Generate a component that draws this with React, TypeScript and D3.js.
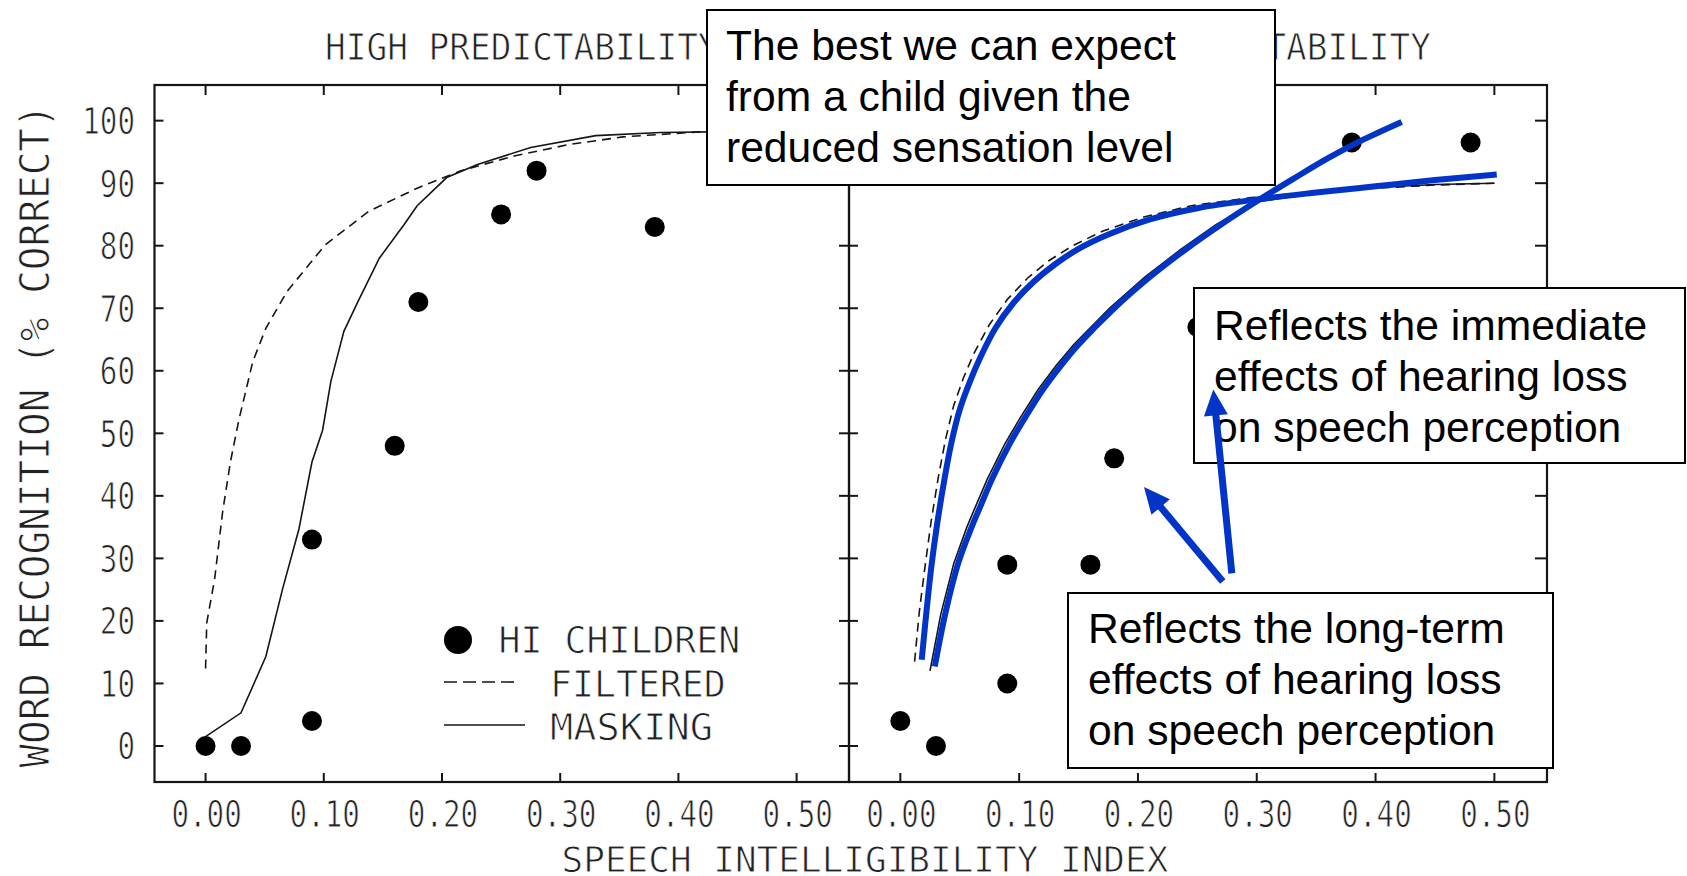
import React from 'react';
import * as d3 from 'd3';

const W = 1687, H = 876;

/* ── axes ── */
const xTicks = [0, 0.1, 0.2, 0.3, 0.4, 0.5];
const xTickLabels = ['0.00', '0.10', '0.20', '0.30', '0.40', '0.50'];
const yTicks = [0, 10, 20, 30, 40, 50, 60, 70, 80, 90, 100];

/* ── HIGH predictability (left panel) ── */
const highDotX = [0.0, 0.03, 0.09, 0.09, 0.16, 0.18, 0.25, 0.28, 0.38];
const highDotY = [0, 0, 4, 33, 48, 71, 85, 92, 83];
const highFilteredX = [0.0, 0.001, 0.0076, 0.0144, 0.021, 0.028, 0.04, 0.051, 0.069, 0.101, 0.138, 0.179, 0.216, 0.262, 0.308, 0.353, 0.417, 0.5];
const highFilteredY = [12.4, 19.7, 26.6, 37.4, 45.4, 52, 61.5, 66.8, 72.7, 80.1, 85.5, 89.2, 92, 94.4, 96.2, 97.4, 98.2, 98.5];
const highMaskingX = [0.0, 0.03, 0.051, 0.065, 0.079, 0.09, 0.099, 0.106, 0.117, 0.129, 0.147, 0.168, 0.179, 0.204, 0.23, 0.275, 0.33, 0.385, 0.5];
const highMaskingY = [1.5, 5.3, 14.3, 25, 34.7, 45.4, 50.5, 58.3, 66.3, 71.1, 78, 83.4, 86.4, 90.9, 93, 95.7, 97.6, 98.1, 98.4];

/* ── LOW predictability (right panel) ── */
const lowDotX = [0.0, 0.03, 0.09, 0.09, 0.16, 0.18, 0.25, 0.38, 0.48];
const lowDotY = [4, 0, 10, 29, 29, 46, 67, 96.5, 96.5];
const lowFilteredX = [0.012, 0.016, 0.021, 0.026, 0.032, 0.038, 0.045, 0.053, 0.062, 0.075, 0.09, 0.107, 0.125, 0.145, 0.17, 0.205, 0.245, 0.295, 0.35, 0.4, 0.45, 0.5];
const lowFilteredY = [13.5, 21.5, 29, 36, 43, 49, 54.5, 58.8, 62.8, 67.4, 71.4, 74.8, 77.6, 80, 82.3, 84.6, 86.4, 87.7, 88.6, 89.2, 89.7, 90];
const lowMaskingX = [0.025, 0.034, 0.045, 0.056, 0.064, 0.073, 0.088, 0.101, 0.116, 0.131, 0.146, 0.176, 0.206, 0.236, 0.266, 0.3, 0.35, 0.4, 0.45, 0.5];
const lowMaskingY = [12, 21, 29.2, 35, 38.6, 42.6, 48.3, 52.5, 57, 60.8, 64.2, 70, 75, 79.4, 83.4, 87, 88.4, 89.3, 89.8, 90];

/* ── hand-drawn blue curves (right panel) ── */
const immediateX = [0.018, 0.022, 0.026, 0.031, 0.037, 0.043, 0.05, 0.058, 0.067, 0.08, 0.095, 0.112, 0.13, 0.15, 0.175, 0.21, 0.25, 0.3, 0.35, 0.4, 0.45, 0.502];
const immediateY = [13.8, 21.5, 28.5, 35.5, 42.5, 48.5, 53.8, 58, 62, 66.8, 70.8, 74.2, 77, 79.5, 81.8, 84.2, 86, 87.4, 88.5, 89.5, 90.5, 91.4];
const longTermX = [0.029, 0.038, 0.049, 0.06, 0.068, 0.077, 0.092, 0.105, 0.12, 0.135, 0.15, 0.18, 0.21, 0.24, 0.27, 0.3, 0.33, 0.36, 0.39, 0.422];
const longTermY = [12.7, 21.3, 29.4, 35, 38.6, 42.6, 48.3, 52.5, 57, 60.8, 64.2, 70, 75, 79.4, 83.4, 87.1, 90.6, 94, 97, 99.8];

/* arrows in right-panel data units: [fromX, fromY, toX, toY] */
const arrows = [
  [0.279, 27.6, 0.2634, 57.0],
  [0.2714, 26.3, 0.2051, 41.4],
];

const callouts = [
  { x: 707, y: 10, w: 568, h: 175, tx: 726, base: 60, lines: ['The best we can expect', 'from a child given the', 'reduced sensation level'] },
  { x: 1194, y: 288, w: 491, h: 175, tx: 1214, base: 340, lines: ['Reflects the immediate', 'effects of hearing loss', 'on speech perception'] },
  { x: 1068, y: 593, w: 485, h: 175, tx: 1088, base: 643, lines: ['Reflects the long-term', 'effects of hearing loss', 'on speech perception'] },
];

const BLUE = '#0234c8';
const INK = '#151515';
const MONO = 'DejaVu Sans Mono, monospace';
const ARIAL = 'Liberation Sans, Arial, sans-serif';
const ADV = 0.602; // DejaVu Sans Mono advance per em

const top = 85, bottom = 782;
const y = d3.scaleLinear().domain([-5.76, 105.7]).range([bottom, top]);
const xL = d3.scaleLinear().domain([-0.0432, 0.5443]).range([154.5, 849]);
const xR = d3.scaleLinear().domain([-0.0432, 0.5443]).range([849, 1547]);

const zip = (xs, ys) => xs.map((v, i) => [v, ys[i]]);

/* thin, narrow plotter-style text: squeezed with textLength, white outline thins glyphs */
function Mono({ x, y: yy, size, sx = 1, rot = 0, anchor = 'start', children }) {
  const s = String(children);
  return (
    <text
      transform={rot ? `translate(${x},${yy}) rotate(${rot})` : undefined}
      x={rot ? 0 : x}
      y={rot ? 0 : yy}
      fontFamily={MONO}
      fontSize={size}
      textAnchor={anchor}
      textLength={s.length * ADV * size * sx}
      lengthAdjust="spacingAndGlyphs"
      fill="#222"
      stroke="#fff"
      strokeWidth={0.9}
    >
      {s}
    </text>
  );
}

function Panel({ x, dotX, dotY, filX, filY, maskX, maskY, leftTicks, rightTicks, rightIn }) {
  const [x0, x1] = x.range();
  const line = d3.line().x(d => x(d[0])).y(d => y(d[1])).curve(d3.curveLinear);
  return (
    <g>
      <rect x={x0} y={top} width={x1 - x0} height={bottom - top} fill="none" stroke={INK} strokeWidth={2.2} />
      {xTicks.map(t => (
        <g key={t}>
          <line x1={x(t)} x2={x(t)} y1={top} y2={top + 10} stroke={INK} strokeWidth={2} />
          <line x1={x(t)} x2={x(t)} y1={bottom} y2={bottom - 9} stroke={INK} strokeWidth={2} />
        </g>
      ))}
      {yTicks.map(t => (
        <g key={t}>
          {leftTicks && <line x1={x0 - leftTicks[0]} x2={x0 + leftTicks[1]} y1={y(t)} y2={y(t)} stroke={INK} strokeWidth={2} />}
          {rightTicks && <line x1={x1 - rightIn} x2={x1} y1={y(t)} y2={y(t)} stroke={INK} strokeWidth={2} />}
        </g>
      ))}
      {xTicks.map((t, i) => (
        <Mono key={t} x={x(t) + 1} y={827} size={37} sx={0.79} anchor="middle">{xTickLabels[i]}</Mono>
      ))}
      <path d={line(zip(filX, filY))} fill="none" stroke={INK} strokeWidth={1.6} strokeDasharray="9,6" />
      <path d={line(zip(maskX, maskY))} fill="none" stroke={INK} strokeWidth={1.6} />
      {dotX.map((v, i) => (
        <circle key={i} cx={x(v)} cy={y(dotY[i])} r={10} fill="#000" />
      ))}
    </g>
  );
}

function Arrow({ a }) {
  const [fx, fy, tx, ty] = a;
  const x1 = xR(fx), y1 = y(fy), x2 = xR(tx), y2 = y(ty);
  const ang = Math.atan2(y2 - y1, x2 - x1);
  const L = 26, hw = 12;
  const bx = x2 - L * Math.cos(ang), by = y2 - L * Math.sin(ang);
  const px = -Math.sin(ang), py = Math.cos(ang);
  const head = [[x2, y2], [bx + px * hw, by + py * hw], [bx - px * hw, by - py * hw]];
  return (
    <g>
      <line x1={x1} y1={y1} x2={bx + 4 * Math.cos(ang)} y2={by + 4 * Math.sin(ang)} stroke={BLUE} strokeWidth={7} />
      <polygon points={head.map(p => p.join(',')).join(' ')} fill={BLUE} />
    </g>
  );
}

export default function App() {
  const blue = d3.line().x(d => xR(d[0])).y(d => y(d[1])).curve(d3.curveCatmullRom.alpha(0.5));
  return (
    <div>
      <style>{'body{margin:0}'}</style>
      <svg width={W} height={H} style={{ display: 'block', background: '#fff' }}>
        {/* y tick labels */}
        {yTicks.map(t => (
          <Mono key={t} x={135} y={y(t) + 13.5} size={37} sx={0.79} anchor="end">{String(t)}</Mono>
        ))}
        {/* axis titles */}
        <Mono x={49} y={436} size={41} sx={0.96} rot={-90} anchor="middle">WORD RECOGNITION (% CORRECT)</Mono>
        <Mono x={865} y={872} size={36} anchor="middle">SPEECH INTELLIGIBILITY INDEX</Mono>
        <Mono x={325} y={60} size={37} sx={0.93}>HIGH PREDICTABILITY</Mono>
        <Mono x={1431} y={60} size={37} sx={0.93} anchor="end">LOW PREDICTABILITY</Mono>

        <Panel x={xL} dotX={highDotX} dotY={highDotY} filX={highFilteredX} filY={highFilteredY}
          maskX={highMaskingX} maskY={highMaskingY} leftTicks={[0, 9]} />
        <Panel x={xR} dotX={lowDotX} dotY={lowDotY} filX={lowFilteredX} filY={lowFilteredY}
          maskX={lowMaskingX} maskY={lowMaskingY} leftTicks={[10, 9]} rightTicks rightIn={12} />

        {/* legend */}
        <circle cx={458} cy={640} r={14} fill="#000" />
        <Mono x={498.6} y={652.7} size={36.5}>HI CHILDREN</Mono>
        <line x1={444} x2={518} y1={682} y2={682} stroke={INK} strokeWidth={1.6} strokeDasharray="13,6" />
        <Mono x={550} y={696.7} size={36.5}>FILTERED</Mono>
        <line x1={444} x2={525} y1={725} y2={725} stroke={INK} strokeWidth={1.6} />
        <Mono x={550} y={740} size={36.5} sx={1.06}>MASKING</Mono>

        {/* callout boxes */}
        {callouts.map((c, i) => (
          <g key={i}>
            <rect x={c.x} y={c.y} width={c.w} height={c.h} fill="#fff" stroke="#000" strokeWidth={2} />
            {c.lines.map((l, j) => (
              <text key={j} x={c.tx} y={c.base + j * 51} fontFamily={ARIAL} fontSize={42.6} fill="#000">{l}</text>
            ))}
          </g>
        ))}

        {/* hand-drawn blue fits */}
        <path d={blue(zip(immediateX, immediateY))} fill="none" stroke={BLUE} strokeWidth={6} />
        <path d={blue(zip(longTermX, longTermY))} fill="none" stroke={BLUE} strokeWidth={6} />
        {arrows.map((a, i) => <Arrow key={i} a={a} />)}
      </svg>
    </div>
  );
}
